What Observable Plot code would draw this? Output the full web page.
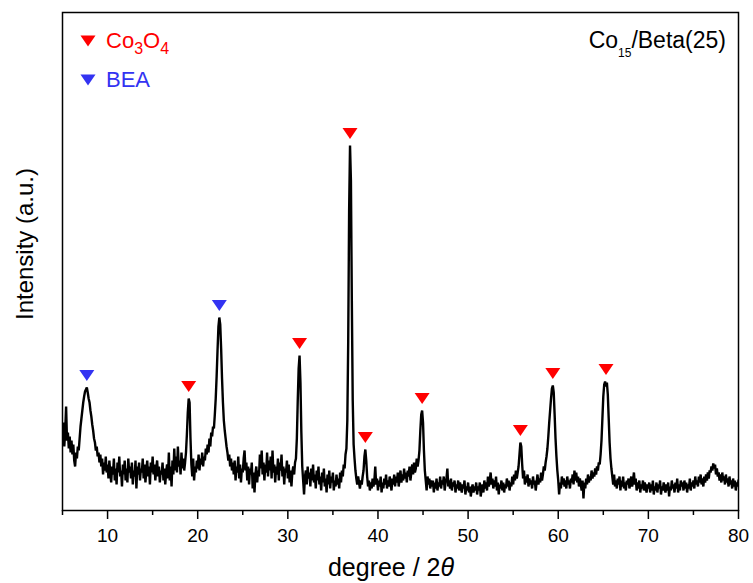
<!DOCTYPE html>
<html><head><meta charset="utf-8">
<script src="https://cdn.jsdelivr.net/npm/d3@7"></script>
<script src="https://cdn.jsdelivr.net/npm/@observablehq/plot@0.6"></script>
<style>html,body{margin:0;padding:0;background:#fff;} #chart svg{display:block}</style>
</head><body><div id="chart"></div>
<script>
// XRD pattern of Co15/Beta(25): intensity (a.u.) sampled every 0.1 degree 2θ from 5.0 to 80.0
const twoThetaStart = 5.0;
const twoThetaStep = 0.1;
const intensity = [
 72,88,64,80,104,70,78,62,74,58,
 70,56,66,50,44,58,52,64,60,72,
 84,92,100,108,114,119,121,123,118,112,
 108,100,94,86,80,72,68,60,64,54,
 58,48,56,44,52,36,48,40,54,38,
 46,32,50,38,28,44,36,52,30,42,
 26,48,38,54,34,40,24,46,36,50,
 30,42,28,52,38,44,32,48,26,40,
 34,50,22,44,36,48,30,42,38,52,
 32,46,28,40,50,34,44,26,48,38,
 54,36,46,30,42,50,34,44,28,40,
 36,48,30,42,26,38,46,32,58,30,
 44,24,50,36,62,40,54,38,64,44,
 50,36,58,42,52,40,48,58,76,98,
 112,108,72,46,34,52,30,44,38,50,
 42,56,40,52,46,58,44,54,50,62,
 56,66,58,72,64,78,74,84,82,96,
 112,134,160,184,193,186,162,132,108,90,
 80,72,64,58,50,56,44,52,40,48,
 36,50,30,44,38,54,32,46,28,42,
 38,52,60,40,48,30,44,26,42,36,
 48,22,38,18,36,44,28,40,34,56,
 42,60,36,48,30,46,38,58,34,50,
 40,54,32,60,38,46,28,44,36,52,
 30,48,40,56,34,44,26,42,38,50,
 32,46,28,40,24,38,44,36,48,52,
 72,110,142,155,128,78,44,30,16,34,
 40,26,44,32,38,24,42,30,46,28,
 36,22,40,30,44,26,34,20,38,28,
 42,24,32,18,36,26,40,22,34,28,
 38,20,30,24,36,26,32,22,38,28,
 40,34,46,42,56,62,90,170,300,365,
 330,210,110,66,52,40,32,26,34,28,
 22,30,26,34,40,54,61,50,34,24,
 30,20,28,22,32,24,30,44,26,32,
 20,30,24,34,18,28,22,32,26,36,
 22,30,24,34,28,20,32,26,36,24,
 34,28,38,24,32,40,28,36,30,42,
 32,38,28,40,34,44,30,38,46,36,
 48,38,42,52,44,50,60,80,96,100,
 88,60,40,30,20,34,26,32,22,30,
 24,30,18,28,22,32,20,28,24,34,
 22,30,26,34,20,28,32,42,24,30,
 22,32,20,28,24,30,18,26,22,30,
 20,28,24,18,26,22,30,16,24,20,
 28,18,24,14,22,26,18,24,20,28,
 16,24,20,28,14,22,26,18,30,22,
 28,20,34,24,30,38,26,32,22,30,
 24,34,20,28,16,26,22,30,20,28,
 18,26,22,32,24,30,20,28,24,34,
 26,36,30,40,32,38,44,56,68,64,
 46,32,40,26,34,28,36,24,32,26,
 30,22,34,26,30,20,28,36,26,32,
 28,38,30,36,44,40,48,54,62,74,
 88,100,112,122,125,118,96,72,54,40,
 30,16,28,22,34,26,32,24,30,22,
 34,26,30,22,32,28,36,26,40,30,
 38,28,34,24,32,26,20,30,12,28,
 22,32,26,36,28,34,30,40,32,38,
 34,42,36,44,40,48,46,56,70,92,
 114,126,129,124,128,116,92,68,52,42,
 34,26,36,24,30,22,32,26,34,20,
 30,24,34,22,28,20,30,26,32,22,
 28,34,24,30,38,26,32,20,28,22,
 30,18,26,22,30,20,28,24,18,26,
 22,28,18,26,20,30,16,24,20,28,
 18,26,22,30,16,24,20,28,22,18,
 26,20,28,14,24,20,30,22,26,18,
 28,22,32,18,26,20,30,24,28,20,
 30,22,28,18,26,22,32,20,28,24,
 30,22,34,26,30,24,34,28,36,26,
 32,24,34,28,36,30,38,32,40,38,
 44,40,47,42,46,36,42,34,38,30,
 36,28,38,30,34,26,36,28,32,24,
 34,26,30,22,32,24,30,20,28,24,
 30
];

// Indexed reflections
const peakTwoTheta  = [7.7, 19.0, 22.4, 31.3, 36.9, 38.6, 44.9, 55.8, 59.4, 65.3];
const peakIntensity = [123, 112, 193, 155, 365, 61, 100, 68, 125, 129];
const peakPhase     = ["BEA","Co3O4","BEA","Co3O4","Co3O4","Co3O4","Co3O4","Co3O4","Co3O4","Co3O4"];

const phaseNames  = ["Co3O4", "BEA"];
const phaseColors = {Co3O4: "#ff0000", BEA: "#3333f2"};
const xMajorTicks = [10, 20, 30, 40, 50, 60, 70, 80];
const xMinorTicks = [5, 15, 25, 35, 45, 55, 65, 75];
const sampleName = "Co15/Beta(25)";

const pattern = intensity.map((v, i) => ({twoTheta: +(twoThetaStart + i * twoThetaStep).toFixed(1), intensity: v}));
const peaks = peakTwoTheta.map((t, i) => ({twoTheta: t, intensity: peakIntensity[i], phase: peakPhase[i]}));

const downTriangle = {draw(ctx) { ctx.moveTo(-7.5, -5.5); ctx.lineTo(7.5, -5.5); ctx.lineTo(0, 5.5); ctx.closePath(); }};
const font = "'Liberation Sans', Arial, Helvetica, sans-serif";

const plot = Plot.plot({
  width: 753, height: 583,
  marginLeft: 62, marginRight: 15, marginTop: 12, marginBottom: 73,
  style: {fontFamily: font, fontSize: "19px", color: "#000", background: "#fff", overflow: "visible"},
  x: {domain: [5, 80]},
  y: {domain: [0, 498], axis: null},
  marks: [
    Plot.line(pattern, {x: "twoTheta", y: "intensity", stroke: "#000", strokeWidth: 2.4, strokeLinejoin: "miter", clip: true}),
    ...phaseNames.map(p => Plot.dot(peaks.filter(d => d.phase === p), {
      x: "twoTheta", y: "intensity", dy: -12, symbol: downTriangle, fill: phaseColors[p], stroke: "none"
    })),
    Plot.axisX(xMajorTicks, {tickSize: 9, tickPadding: 9, label: null, strokeWidth: 1.5}),
    Plot.axisX(xMinorTicks, {tickSize: 5, tickFormat: () => "", label: null, strokeWidth: 1.5}),
    Plot.frame({stroke: "#000", strokeWidth: 1.5})
  ]
});

const svg = d3.select(plot);
const ann = svg.append("g").attr("font-family", font).attr("text-anchor", "start");

// Legend
const legendRows = [{phase: "Co3O4", y: 41, parts: [["Co"], ["3", true], ["O"], ["4", true]]},
                    {phase: "BEA", y: 80, parts: [["BEA"]]}];
legendRows.forEach(r => {
  ann.append("path").attr("d", d3.symbol(downTriangle)()).attr("transform", `translate(88,${r.y})`).attr("fill", phaseColors[r.phase]);
  const t = ann.append("text").attr("x", 106).attr("y", r.y + 6.5).attr("text-anchor", "start").attr("font-size", 22).attr("fill", phaseColors[r.phase]);
  let sub = false;
  r.parts.forEach(([s, isSub]) => {
    const dy = isSub && !sub ? 6 : (!isSub && sub ? -6 : 0);
    t.append("tspan").attr("dy", dy).attr("font-size", isSub ? 16 : 22).text(s);
    sub = !!isSub;
  });
});

// Sample label Co15/Beta(25)
const st = ann.append("text").attr("x", 726).attr("y", 47.5).attr("text-anchor", "end").attr("font-size", 23).attr("fill", "#000");
st.append("tspan").text(sampleName.slice(0, 2));
st.append("tspan").attr("dy", 9).attr("font-size", 12).text(sampleName.slice(2, 4));
st.append("tspan").attr("dy", -9).text(sampleName.slice(4));

// Axis titles
const xl = ann.append("text").attr("x", 391).attr("y", 576).attr("text-anchor", "middle").attr("font-size", 25).attr("fill", "#000");
xl.append("tspan").text("degree / 2");
xl.append("tspan").attr("font-style", "italic").text("θ");
ann.append("text").attr("transform", "translate(33,244) rotate(-90)").attr("text-anchor", "middle")
  .attr("font-size", 24).attr("fill", "#000").text("Intensity (a.u.)");

document.getElementById("chart").append(plot);
</script>
</body></html>
